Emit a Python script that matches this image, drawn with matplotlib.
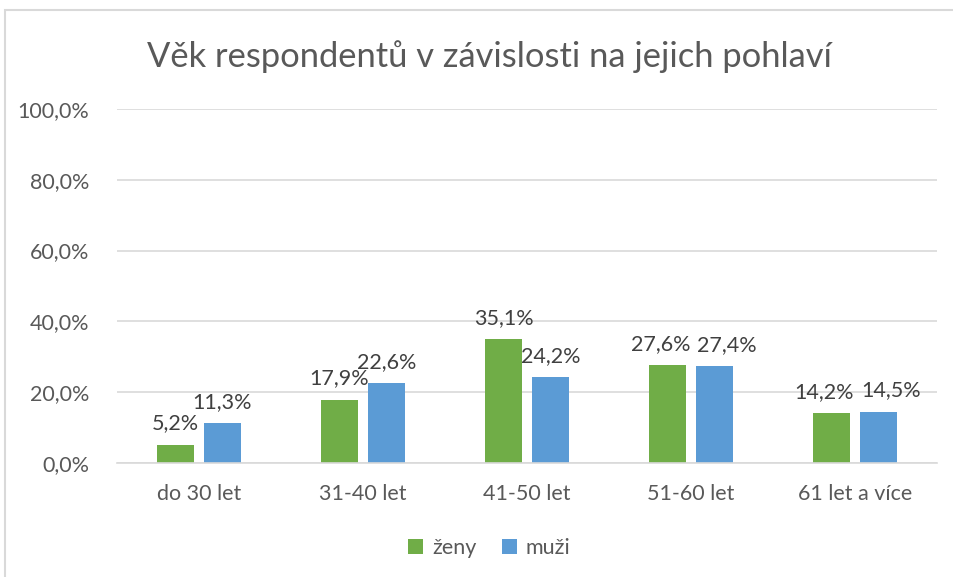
import matplotlib.pyplot as plt
import numpy as np
from matplotlib.patches import Rectangle

# data
kategorie = ['do 30 let', '31-40 let', '41-50 let', '51-60 let', '61 let a více']
zeny = [5.2, 17.9, 35.1, 27.6, 14.2]
muzi = [11.3, 22.6, 24.2, 27.4, 14.5]
y_ticks = [0, 20, 40, 60, 80, 100]

plt.rcParams['font.family'] = ['Lato', 'DejaVu Sans']

fig = plt.figure(figsize=(9.54, 5.77), dpi=100)
ax = fig.add_axes([0.1226, 0.1976, 0.8594, 0.6135])

# light frame round the chart area
fig.patches.append(Rectangle((5 / 954, -0.05), 1.2, 1 - 10 / 577 + 0.05,
                             transform=fig.transFigure, fill=False,
                             edgecolor='#D9D9D9', linewidth=1.5))

x = np.arange(len(kategorie))
w = 0.226
g = 0.03
b1 = ax.bar(x - w / 2 - g, zeny, w, color='#70AD47', label='ženy')
b2 = ax.bar(x + w / 2 + g, muzi, w, color='#5B9BD5', label='muži')

def fmt(v):
  return f'{v:.1f}%'.replace('.', ',')

# data labels; where the pair sits at the same height, push them apart
for i in range(len(kategorie)):
  same = abs(zeny[i] - muzi[i]) < 4
  for r, v, dx in ((b1[i], zeny[i], -5 if same else 0),
                   (b2[i], muzi[i], 9 if same else 0)):
    ax.annotate(fmt(v), (r.get_x() + r.get_width() / 2, v),
                xytext=(dx, 8), textcoords='offset points',
                ha='center', va='bottom', fontsize=15.5, color='#404040')

ax.set_xlim(-0.5, len(kategorie) - 0.5)
ax.set_ylim(0, 100)
ax.set_yticks(y_ticks)
ax.set_yticklabels([fmt(t) for t in y_ticks])
ax.set_xticks(x)
ax.set_xticklabels(kategorie)
ax.tick_params(axis='both', length=0, colors='#595959')
ax.tick_params(axis='x', pad=15, labelsize=15.5)
ax.tick_params(axis='y', pad=20, labelsize=15.5)
ax.grid(axis='y', color='#D9D9D9', linewidth=1.2)
ax.set_axisbelow(True)
for s in ['top', 'right', 'left']:
  ax.spines[s].set_visible(False)
ax.spines['bottom'].set_color('#D9D9D9')
ax.spines['bottom'].set_linewidth(1.2)

fig.text(0.513, 0.902, 'Věk respondentů v závislosti na jejich pohlaví',
         ha='center', va='center', fontsize=24.8, color='#595959')

fig.legend(loc='center', bbox_to_anchor=(0.513, 0.05), ncol=2, frameon=False,
           fontsize=15.5, handlelength=0.7, handleheight=0.7, handletextpad=0.4,
           columnspacing=1.2, labelcolor='#595959')

fig.savefig('out.png', dpi=100)
